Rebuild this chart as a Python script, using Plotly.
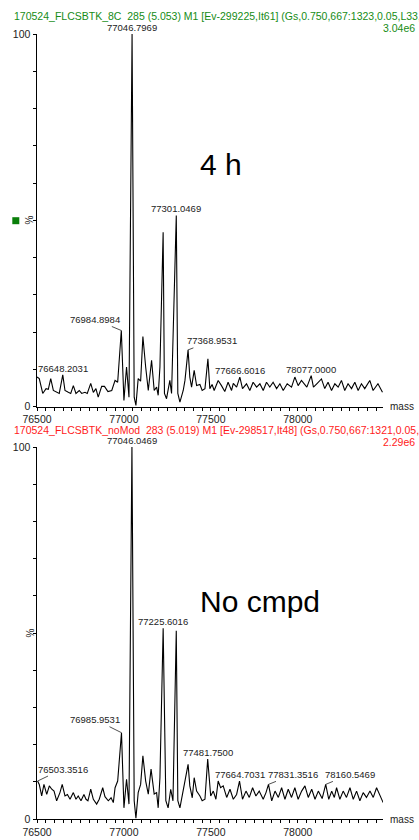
import plotly.graph_objects as go

# ---------------- data ----------------
top_mass = [
    76500, 76513, 76533, 76552, 76565, 76579, 76594, 76613, 76628, 76648.2031,
    76661, 76680, 76694, 76709, 76724, 76743, 76757, 76776, 76789, 76809,
    76824, 76839, 76852, 76872, 76888, 76908, 76930, 76949, 76964, 76984.8984,
    77000, 77015, 77029, 77046.7969, 77059, 77069, 77082, 77096, 77109, 77125,
    77140, 77159, 77174, 77188, 77197, 77207, 77225.5, 77233, 77245, 77264,
    77274, 77301.0469, 77310, 77322, 77341, 77351, 77368.9531, 77379, 77389, 77404,
    77418, 77437, 77450, 77466, 77483, 77494, 77507, 77519, 77542, 77561,
    77580, 77599, 77619, 77629, 77648, 77666.6016, 77682, 77705, 77724, 77743,
    77763, 77782, 77801, 77820, 77839, 77858, 77878, 77897, 77916, 77939,
    77964, 77983, 78002, 78021, 78052, 78077.0000, 78090, 78109, 78136, 78155,
    78174, 78194, 78213, 78232, 78251, 78270, 78289, 78309, 78328, 78347,
    78366, 78385, 78414, 78433, 78461, 78487,
]
top_int = [
    7.9, 7.5, 3.5, 4.8, 4.6, 7.5, 4.3, 3.8, 3.5, 8.5,
    4.3, 3.8, 3.5, 5.6, 3.5, 4.3, 3.5, 3.8, 3.5, 6.2,
    3.8, 4.8, 2.5, 5.4, 5.4, 4.0, 4.3, 7.0, 6.5, 20.4,
    1.6, 10.6, 2.5, 100.0, 2.5, 0.3, 7.5, 6.8, 18.8, 10.6,
    4.3, 12.4, 4.3, 5.2, 3.0, 10.6, 46.8, 3.5, 2.1, 7.0,
    3.5, 51.3, 3.5, 1.2, 4.3, 7.0, 15.2, 7.9, 5.2, 9.7,
    5.6, 5.9, 4.3, 4.8, 12.8, 4.8, 5.9, 4.3, 7.0, 5.6,
    4.0, 6.5, 4.3, 6.2, 5.2, 7.9, 4.8, 6.1, 4.3, 6.5,
    5.2, 6.1, 4.3, 6.5, 5.2, 6.5, 4.8, 6.1, 4.3, 6.1,
    5.2, 7.9, 5.6, 7.0, 5.2, 8.3, 5.2, 6.1, 7.4, 4.8,
    6.5, 4.3, 6.1, 5.2, 7.0, 4.3, 6.1, 4.8, 6.5, 4.3,
    6.1, 4.8, 7.0, 4.3, 6.1, 3.8,
]

bot_mass = [
    76503.3516, 76513, 76527, 76540, 76556, 76571, 76585, 76598, 76613, 76632,
    76645, 76661, 76675, 76690, 76709, 76724, 76737, 76753, 76770, 76782,
    76793, 76809, 76824, 76843, 76858, 76878, 76891, 76910, 76926, 76939,
    76949, 76964, 76985.9531, 77000, 77015, 77029, 77046.0469, 77059, 77069, 77082,
    77096, 77109, 77125, 77140, 77156, 77174, 77188, 77197, 77207, 77225.6016,
    77241, 77254, 77269, 77282, 77301, 77310, 77322, 77341, 77351, 77369,
    77379, 77393, 77404, 77418, 77437, 77450, 77466, 77481.7500, 77499, 77514,
    77529, 77542, 77556, 77571, 77591, 77610, 77629, 77648, 77664.7031, 77682,
    77702, 77721, 77740, 77759, 77778, 77801, 77817, 77831.3516, 77850, 77869,
    77888, 77907, 77926, 77945, 77964, 77983, 78002, 78022, 78041, 78060,
    78080, 78099, 78118, 78140, 78160.5469, 78178, 78195, 78210, 78223, 78242,
    78261, 78280, 78300, 78319, 78338, 78357, 78376, 78395, 78415, 78434,
    78453, 78472, 78491,
]
bot_int = [
    10.2, 9.3, 6.2, 9.3, 6.6, 8.9, 8.0, 7.5, 4.9, 7.1,
    9.3, 6.2, 6.6, 5.3, 7.1, 5.3, 6.2, 4.9, 6.6, 5.3,
    4.9, 8.0, 5.3, 4.0, 5.3, 8.4, 6.0, 4.9, 5.7, 4.4,
    8.4, 10.2, 23.2, 3.0, 10.7, 4.0, 100.0, 4.9, 0.2, 7.1,
    9.3, 17.0, 10.2, 6.7, 13.4, 6.7, 7.1, 3.0, 11.1, 51.3,
    4.9, 3.0, 8.0, 4.9, 50.6, 4.9, 3.0, 8.0, 10.2, 14.7,
    8.9, 5.7, 11.1, 7.5, 6.2, 4.9, 5.3, 16.1, 6.2, 7.5,
    5.3, 10.2, 8.4, 8.9, 5.8, 8.0, 5.3, 6.6, 10.2, 5.3,
    7.5, 5.8, 8.4, 6.2, 7.5, 5.3, 7.1, 9.3, 4.9, 7.5,
    5.8, 8.4, 5.3, 8.0, 5.8, 8.4, 5.3, 7.5, 8.9, 5.8,
    8.0, 5.3, 7.5, 5.5, 9.3, 5.3, 7.5, 5.8, 8.4, 5.3,
    7.5, 5.8, 8.4, 5.3, 7.5, 4.9, 7.1, 5.8, 7.5, 5.8,
    8.4, 6.2, 4.4,
]
assert len(top_mass) == len(top_int) and len(bot_mass) == len(bot_int)

top_peaks = [76648.2031, 76984.8984, 77046.7969, 77301.0469, 77368.9531, 77666.6016, 78077.0000]
bot_peaks = [76503.3516, 76985.9531, 77046.0469, 77225.6016, 77481.7500, 77664.7031, 77831.3516, 78160.5469]

top_header = "170524_FLCSBTK_8C \u00a0285 (5.053) M1 [Ev-299225,It61] (Gs,0.750,667:1323,0.05,L33,"
bot_header = "170524_FLCSBTK_noMod \u00a0283 (5.019) M1 [Ev-298517,It48] (Gs,0.750,667:1321,0.05,L33,R1)"
top_scale = "3.04e6"
bot_scale = "2.29e6"
top_title = "4 h"
bot_title = "No cmpd"

x_ticks = list(range(76500, 78451, 50))
x_tick_text = [str(v) if v % 500 == 0 else "" for v in x_ticks]
y_ticks = list(range(0, 101, 10))
y_tick_text = [str(v) if v in (0, 100) else "" for v in y_ticks]

# ---------------- layout helpers (pixels -> paper) ----------------
W, H = 419, 840
FONT = "Liberation Sans, Arial, sans-serif"
def fx(px):
    return px / W
def fy(py):
    return 1 - py / H

# leader-line offsets (pixels) for labels drawn beside their peak
top_offsets = {76984.8984: (-26, -11), 77368.9531: (24, -9)}
bot_offsets = {76503.3516: (25, -12), 76985.9531: (-26, -13),
               77831.3516: (25, -10), 78160.5469: (24, -10)}

fig = go.Figure()
fig.add_trace(go.Scatter(x=top_mass, y=top_int, mode="lines",
                         line=dict(color="black", width=1.1),
                         xaxis="x", yaxis="y", hoverinfo="skip", showlegend=False))
fig.add_trace(go.Scatter(x=bot_mass, y=bot_int, mode="lines",
                         line=dict(color="black", width=1.1),
                         xaxis="x2", yaxis="y2", hoverinfo="skip", showlegend=False))

xcommon = dict(range=[76500, 78490], domain=[fx(37), fx(383)], showline=True,
               linecolor="black", linewidth=1, ticks="outside", ticklen=3,
               tickcolor="black", tickwidth=1, tickmode="array", tickvals=x_ticks,
               ticktext=x_tick_text, showgrid=False, zeroline=False, automargin=False,
               tickfont=dict(family=FONT, size=10.5, color="#222"), fixedrange=True)
ycommon = dict(range=[0, 100], showline=True, linecolor="black", linewidth=1,
               ticks="outside", ticklen=3.5, tickcolor="black", tickwidth=1,
               tickmode="array", tickvals=y_ticks, ticktext=y_tick_text,
               showgrid=False, zeroline=False, automargin=False,
               tickfont=dict(family=FONT, size=10.5, color="#222"), fixedrange=True)

fig.update_layout(
    template="none",
    width=W, height=H, margin=dict(l=0, r=0, t=0, b=0, pad=0, autoexpand=False),
    paper_bgcolor="white", plot_bgcolor="white", showlegend=False,
    font=dict(family=FONT, color="#222"),
    xaxis=dict(**xcommon, anchor="y"),
    yaxis=dict(**ycommon, anchor="x", domain=[fy(406.5), fy(34)]),
    xaxis2=dict(**xcommon, anchor="y2"),
    yaxis2=dict(**ycommon, anchor="x2", domain=[fy(819), fy(447)]),
)

ann = []
def paper_text(text, x, y, size, color="#222", xanchor="center", angle=0):
    ann.append(dict(text=text, x=fx(x), y=fy(y), xref="paper", yref="paper",
                    xanchor=xanchor, yanchor="middle", showarrow=False,
                    textangle=angle, font=dict(family=FONT, size=size, color=color)))

paper_text(top_header, 12, 16, 10.5, "#168c16", "left")
paper_text(top_scale, 417, 28.5, 10.5, "#168c16", "right")
paper_text(bot_header, 12, 430.5, 10.5, "#ff1a1a", "left")
paper_text(bot_scale, 417, 442, 10.5, "#ff1a1a", "right")
paper_text("%", 29.5, 220, 10, angle=-90)
paper_text("%", 29.5, 633, 10, angle=-90)
paper_text("mass", 388, 406.5, 10, xanchor="left")
paper_text("mass", 388, 819, 10, xanchor="left")
paper_text(top_title, 221, 164.5, 30, "black")
paper_text(bot_title, 260, 601, 30, "black")

def peak_labels(peaks, masses, ints, offsets, xr, yr):
    for m in peaks:
        i = ints[masses.index(m)]
        base = dict(text=f"{m:.4f}", x=m, y=i, xref=xr, yref=yr,
                    font=dict(family=FONT, size=9.5, color="#222"))
        if m in offsets:
            ax, ay = offsets[m]
            base.update(showarrow=True, ax=ax, ay=ay, arrowhead=0, arrowwidth=0.8,
                        arrowcolor="#222", standoff=0, startstandoff=0)
        else:
            base.update(showarrow=False, yanchor="bottom", yshift=-1)
        ann.append(base)

peak_labels(top_peaks, top_mass, top_int, top_offsets, "x", "y")
peak_labels(bot_peaks, bot_mass, bot_int, bot_offsets, "x2", "y2")

fig.update_layout(annotations=ann)
fig.add_shape(type="rect", xref="paper", yref="paper",
              x0=fx(12.3), x1=fx(19.3), y0=fy(224.2), y1=fy(217.2),
              fillcolor="#0a7f0a", line=dict(width=0))

fig.write_html("out.html")
